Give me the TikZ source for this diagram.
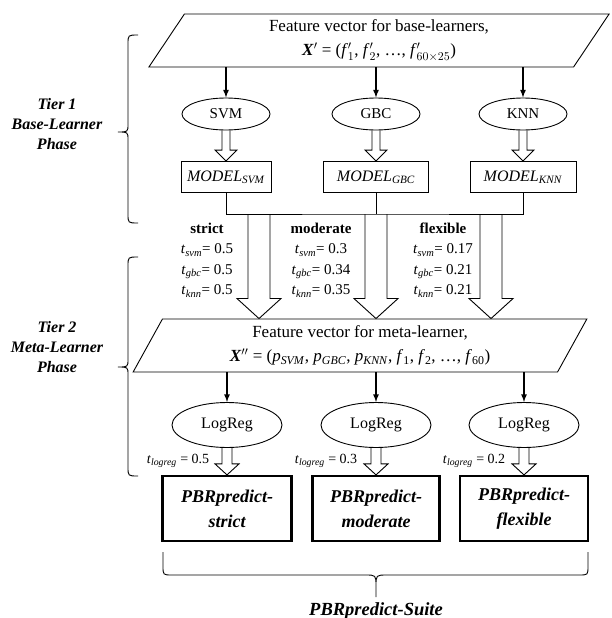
\documentclass[tikz,border=0pt]{standalone}
\usepackage{fix-cm}
\usepackage{amsmath, amssymb, bm}
\usepackage{fontspec}
\setmainfont{Liberation Serif}
\usetikzlibrary{arrows, shapes.geometric, calc}

\newcommand{\tval}[2]{\textit{t}\textsubscript{\textit{#1}}= #2}
\newcommand{\modelof}[1]{\textit{MODEL}\textsubscript{\textit{#1}}}
\newcommand{\prob}[1]{\textit{p}\textsubscript{\textit{#1}}}
% hollow block arrow: from, to, half shaft, half head, head length
\newcommand{\fatarrow}[5]{%
  \draw let \p1=(#1), \p2=(#2) in
    (\x1-#3,\y1) -- (\x1-#3,\y2+#5) -- (\x1-#4,\y2+#5) -- (\x1,\y2)
    -- (\x1+#4,\y2+#5) -- (\x1+#3,\y2+#5) -- (\x1+#3,\y1);}

\tikzset{
  feat/.style={draw, trapezium, trapezium left angle=64, trapezium right angle=116,
    trapezium stretches=true, minimum height=53pt, inner sep=0pt, align=center,
    font=\fontsize{17}{24}\selectfont},
  learner/.style={draw, ellipse, inner sep=0pt, font=\fontsize{15}{18}\selectfont},
  model/.style={draw, rectangle, minimum height=31pt, inner sep=0pt,
    font=\fontsize{16}{18}\selectfont},
  suite/.style={draw, line width=2.2pt, rectangle, minimum height=65pt, inner sep=0pt,
    align=center, font=\bfseries\itshape\fontsize{18}{25}\selectfont},
  tier/.style={align=center, font=\bfseries\itshape\fontsize{16}{20}\selectfont},
  thr/.style={align=center, font=\fontsize{15}{20.5}\selectfont},
  feed/.style={line width=1.6pt, ->},
}

\begin{document}
\begin{tikzpicture}[x=1pt, y=-1pt, >=latex, line width=0.9pt]
\useasboundingbox (0,0) rectangle (611,618);
%tier 1: base-learners
\node[feat, minimum width=462pt] (base) at (379,40.5)
  {Feature vector for base-learners,\\
   \textbf{\textit{X}}$'$ = (\textit{f}$'_1$, \textit{f}$'_2$, …, \textit{f}$'_{60\times 25}$)};
\node[learner, minimum width=88pt, minimum height=32pt] (svm) at (226,114) {SVM};
\node[learner, minimum width=88pt, minimum height=32pt] (gbc) at (376,114) {GBC};
\node[learner, minimum width=88pt, minimum height=32pt] (knn) at (523,114) {KNN};
\node[model, minimum width=90pt] (msvm) at (226,177) {\modelof{SVM}};
\node[model, minimum width=105pt] (mgbc) at (376,177) {\modelof{GBC}};
\node[model, minimum width=106pt] (mknn) at (523,177) {\modelof{KNN}};
\draw[feed] (base.south -| svm) -- (svm.north);
\draw[feed] (base.south -| gbc) -- (gbc.north);
\draw[feed] (base.south -| knn) -- (knn.north);
\fatarrow{svm.south}{msvm.north}{4pt}{11pt}{11pt}
\fatarrow{gbc.south}{mgbc.north}{4pt}{11pt}{11pt}
\fatarrow{knn.south}{mknn.north}{4pt}{11pt}{11pt}
%thresholds
\coordinate (bus) at (376,214);
\coordinate (sA) at (259,214);
\coordinate (sB) at (376,214);
\coordinate (sC) at (491,214);
\node[thr] (strict) at (207,260) {\textbf{strict}\\ \tval{svm}{0.5}\\ \tval{gbc}{0.5}\\ \tval{knn}{0.5}};
\node[thr] (moderate) at (321,260) {\textbf{moderate}\\ \tval{svm}{0.3}\\ \tval{gbc}{0.34}\\ \tval{knn}{0.35}};
\node[thr] (flexible) at (443,260) {\textbf{flexible}\\ \tval{svm}{0.17}\\ \tval{gbc}{0.21}\\ \tval{knn}{0.21}};
%tier 2: meta-learner
\node[feat, minimum width=454pt] (meta) at (360,345.5)
  {Feature vector for meta-learner,\\
   \textbf{\textit{X}}$''$ = (\prob{SVM}, \prob{GBC}, \prob{KNN}, \textit{f}\textsubscript{1}, \textit{f}\textsubscript{2}, …, \textit{f}\textsubscript{60})};
\fatarrow{sA}{sA |- meta.north}{11pt}{22pt}{20pt}
\fatarrow{sB}{sB |- meta.north}{11pt}{22pt}{20pt}
\fatarrow{sC}{sC |- meta.north}{11pt}{22pt}{20pt}
\draw (msvm.south) |- (bus) -| (mknn.south);
\draw (mgbc.south) -- (bus);
\node[learner, minimum width=110pt, minimum height=45pt, font=\fontsize{16}{19}\selectfont] (lr1) at (227,425) {LogReg};
\node[learner, minimum width=110pt, minimum height=45pt, font=\fontsize{16}{19}\selectfont] (lr2) at (376,425) {LogReg};
\node[learner, minimum width=110pt, minimum height=45pt, font=\fontsize{16}{19}\selectfont] (lr3) at (524,425) {LogReg};
\draw[feed] (meta.south -| lr1) -- (lr1.north);
\draw[feed] (meta.south -| lr2) -- (lr2.north);
\draw[feed] (meta.south -| lr3) -- (lr3.north);
\node[suite, minimum width=129pt] (r1) at (227,508.5) {PBRpredict-\\strict};
\node[suite, minimum width=127pt] (r2) at (376,508.5) {PBRpredict-\\moderate};
\node[suite, minimum width=128pt] (r3) at (524,508.5) {PBRpredict-\\flexible};
\fatarrow{lr1.south}{r1.north}{5pt}{12pt}{11pt}
\fatarrow{lr2.south}{r2.north}{5pt}{12pt}{11pt}
\fatarrow{lr3.south}{r3.north}{5pt}{12pt}{11pt}
\node[anchor=east, font=\fontsize{14}{17}\selectfont] (t1) at (213,461) {\textit{t}\textsubscript{\textit{logreg}} = 0.5};
\node[anchor=east, font=\fontsize{14}{17}\selectfont] (t2) at (361,461) {\textit{t}\textsubscript{\textit{logreg}} = 0.3};
\node[anchor=east, font=\fontsize{14}{17}\selectfont] (t3) at (509,461) {\textit{t}\textsubscript{\textit{logreg}} = 0.2};
%braces and phase labels
\draw (138,35) .. controls (128,35) .. (128,44) -- (128,124) .. controls (128,132) .. (118,132)
  .. controls (128,132) .. (128,140) -- (128,214) .. controls (128,223) .. (138,223);
\draw (138,257) .. controls (128,257) .. (128,266) -- (128,359) .. controls (128,367) .. (118,367)
  .. controls (128,367) .. (128,375) -- (128,467) .. controls (128,476) .. (138,476);
\node[tier] (tier1) at (57,124) {Tier 1\\Base-Learner\\Phase};
\node[tier] (tier2) at (57,347) {Tier 2\\Meta-Learner\\Phase};
\draw (163,552) -- (163,566) .. controls (163,575) .. (172,575) -- (365,575) .. controls (376,575) .. (376,586) -- (376,597)
  (376,586) .. controls (376,575) .. (387,575) -- (579,575) .. controls (588,575) .. (588,566) -- (588,552);
\node[font=\bfseries\itshape\fontsize{18.5}{22}\selectfont] (allsuite) at (376,611) {PBRpredict-Suite};
\end{tikzpicture}
\end{document}
